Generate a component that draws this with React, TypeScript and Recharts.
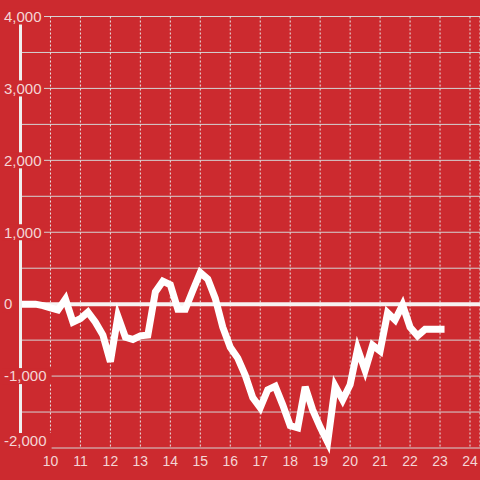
import { LineChart, Line, XAxis, YAxis, CartesianGrid, ReferenceLine } from "recharts";

const BG = "#cc2a2f";
const LABEL = "#f4d6d6";

// time of day (hours) and value
const hours = [
  9, 9.25, 9.5, 9.75, 10, 10.25, 10.5, 10.75, 11, 11.25, 11.5, 11.75, 12, 12.25, 12.5, 12.75,
  13, 13.25, 13.5, 13.75, 14, 14.25, 14.5, 14.75, 15, 15.25, 15.5, 15.75, 16, 16.25, 16.5, 16.75,
  17, 17.25, 17.5, 17.75, 18, 18.25, 18.5, 18.75, 19, 19.25, 19.5, 19.75, 20, 20.25, 20.5, 20.75,
  21, 21.25, 21.5, 21.75, 22, 22.25, 22.5, 22.75, 23, 23.15,
];
const values = [
  0, 0, 0, -20, -50, -80, 70, -250, -200, -110, -250, -430, -800, -170, -460, -490,
  -440, -430, 170, 320, 270, -70, -70, 190, 440, 350, 80, -320, -600, -750, -990, -1300,
  -1440, -1190, -1140, -1400, -1690, -1720, -1150, -1470, -1710, -1920, -1140, -1330, -1120, -620, -920, -570,
  -650, -120, -220, -10, -320, -440, -350, -350, -350, -350,
];
const xTicks = [10, 11, 12, 13, 14, 15, 16, 17, 18, 19, 20, 21, 22, 23, 24];
const yTicks = [-2000, -1500, -1000, -500, 0, 500, 1000, 1500, 2000, 2500, 3000, 3500, 4000];

const data = hours.map((h, i) => ({ h, v: values[i] }));

function YTick(props: any) {
  const { y, payload } = props;
  const v = payload.value as number;
  if (v % 1000 !== 0) return <g />;
  const label = v.toLocaleString("en-US");
  const w = label.length * 7.6 + 4;
  // keep the lowest label inside the chart
  const cy = v === -2000 ? y - 7 : y;
  return (
    <g>
      <rect x={2} y={cy - 8} width={w} height={16} fill={BG} />
      <text x={4} y={cy} dy="0.35em" textAnchor="start" fill={LABEL} fontSize={15} fontFamily="Arial, Liberation Sans, sans-serif">
        {label}
      </text>
    </g>
  );
}

export default function App() {
  return (
    <div style={{ position: "absolute", left: 0, top: 0, width: 480, height: 480, background: BG }}>
      <LineChart width={480} height={480} data={data} margin={{ top: 16.5, right: 0, bottom: 0, left: 0.5 }}>
        <CartesianGrid stroke="#d4d4d4" strokeWidth={1} vertical={false} />
        <CartesianGrid stroke="#e8e8e8" strokeDasharray="2 2" horizontal={false} />
        <XAxis
          type="number"
          dataKey="h"
          domain={[9, 24.3333]}
          ticks={xTicks}
          allowDataOverflow
          axisLine={false}
          tickLine={false}
          height={32}
          tick={{ fill: LABEL, fontSize: 14, fontFamily: "Arial, Liberation Sans, sans-serif" }}
        />
        <ReferenceLine y={0} stroke="#f7f2f2" strokeWidth={4} />
        <Line
          type="linear"
          dataKey="v"
          stroke="#ffffff"
          strokeWidth={7}
          dot={false}
          isAnimationActive={false}
        />
        <YAxis
          type="number"
          domain={[-2000, 4000]}
          ticks={yTicks}
          width={20}
          axisLine={{ stroke: "#f0f0f0", strokeWidth: 3 }}
          tickLine={false}
          tick={<YTick />}
        />
      </LineChart>
    </div>
  );
}
